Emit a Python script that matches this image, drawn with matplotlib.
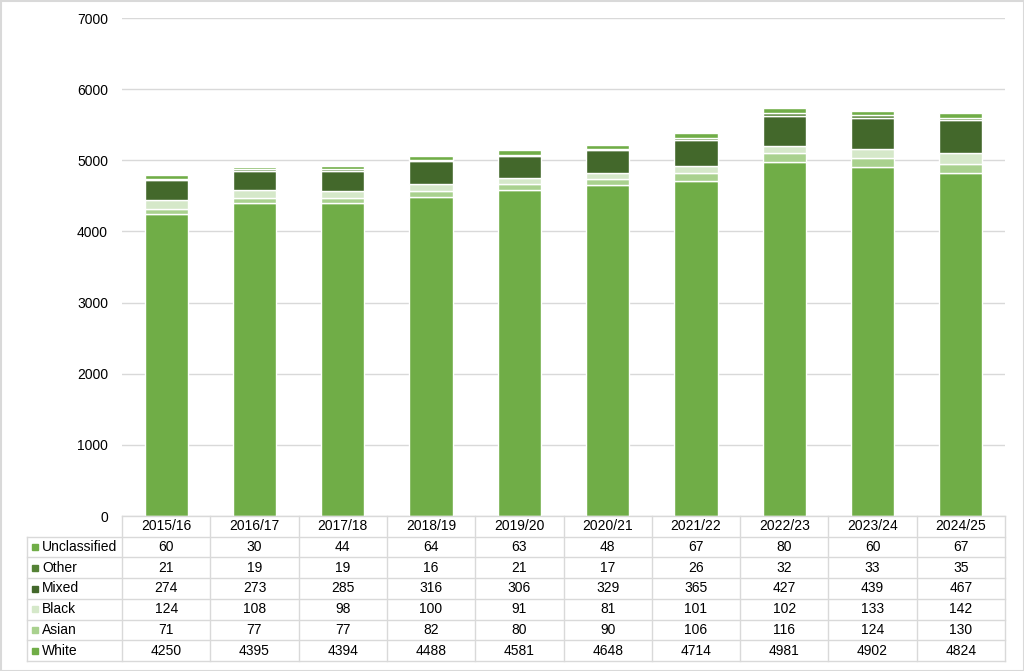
import matplotlib.pyplot as plt
import numpy as np

plt.rcParams['font.family'] = ['Liberation Sans', 'DejaVu Sans']

years = ['2015/16', '2016/17', '2017/18', '2018/19', '2019/20',
         '2020/21', '2021/22', '2022/23', '2023/24', '2024/25']
white = [4250, 4395, 4394, 4488, 4581, 4648, 4714, 4981, 4902, 4824]
asian = [71, 77, 77, 82, 80, 90, 106, 116, 124, 130]
black = [124, 108, 98, 100, 91, 81, 101, 102, 133, 142]
mixed = [274, 273, 285, 316, 306, 329, 365, 427, 439, 467]
other = [21, 19, 19, 16, 21, 17, 26, 32, 33, 35]
unclassified = [60, 30, 44, 64, 63, 48, 67, 80, 60, 67]

# bottom to top
series = [
    ('White', white, '#70AD47'),
    ('Asian', asian, '#A9D18E'),
    ('Black', black, '#D5E8C9'),
    ('Mixed', mixed, '#43682B'),
    ('Other', other, '#548235'),
    ('Unclassified', unclassified, '#70AD47'),
]

W, H = 1024, 671
fig = plt.figure(figsize=(W / 100, H / 100), dpi=100)

left, right, top, bottom = 122, 1005, 18, 516
ax = fig.add_axes([left / W, 1 - bottom / H, (right - left) / W, (bottom - top) / H])

x = np.arange(len(years))
base = np.zeros(len(years))
for name, vals, col in series:
    ax.bar(x, vals, width=0.49, bottom=base, color=col, edgecolor='white', linewidth=1.0, zorder=3)
    base += np.array(vals)

ax.set_xlim(-0.5, len(years) - 0.5)
ax.set_ylim(0, 7000)
ax.set_yticks(range(0, 7001, 1000))
ax.yaxis.grid(True, color='#D9D9D9', linewidth=1)
ax.set_axisbelow(True)
ax.tick_params(axis='y', length=0, pad=10, labelsize=10)
ax.set_xticks([])
for s in ax.spines.values():
    s.set_visible(False)

# table drawn in pixel coordinates
tax = fig.add_axes([0, 0, 1, 1], facecolor='none')
tax.set_xlim(0, W)
tax.set_ylim(H, 0)
tax.axis('off')

grid_col = '#D9D9D9'
col_w = (right - left) / len(years)
row_h = (661 - bottom) / 7.0
rows = list(reversed(series))
row_tops = [bottom + i * row_h for i in range(8)]
lab_left = 27

# horizontal lines
tax.plot([left, right], [bottom, bottom], color=grid_col, lw=1)
for yy in row_tops[1:]:
    tax.plot([lab_left, right], [yy, yy], color=grid_col, lw=1)
# vertical lines
tax.plot([lab_left, lab_left], [row_tops[1], row_tops[-1]], color=grid_col, lw=1)
for k in range(len(years) + 1):
    xx = left + k * col_w
    tax.plot([xx, xx], [bottom, row_tops[-1]], color=grid_col, lw=1)

# header
for i, yr in enumerate(years):
    tax.text(left + (i + 0.5) * col_w, bottom + row_h / 2, yr, ha='center', va='center', fontsize=10)

for r, (name, vals, col) in enumerate(rows):
    yc = row_tops[r + 1] + row_h / 2
    tax.add_patch(plt.Rectangle((32, yc - 3), 6, 6, color=col))
    tax.text(42, yc, name, ha='left', va='center', fontsize=10)
    for i, v in enumerate(vals):
        tax.text(left + (i + 0.5) * col_w, yc, str(v), ha='center', va='center', fontsize=10)

# outer border
tax.add_patch(plt.Rectangle((0.5, 0.5), W - 1, H - 1, fill=False, edgecolor='#D9D9D9', lw=1.5))

fig.savefig('out.png', dpi=100)
